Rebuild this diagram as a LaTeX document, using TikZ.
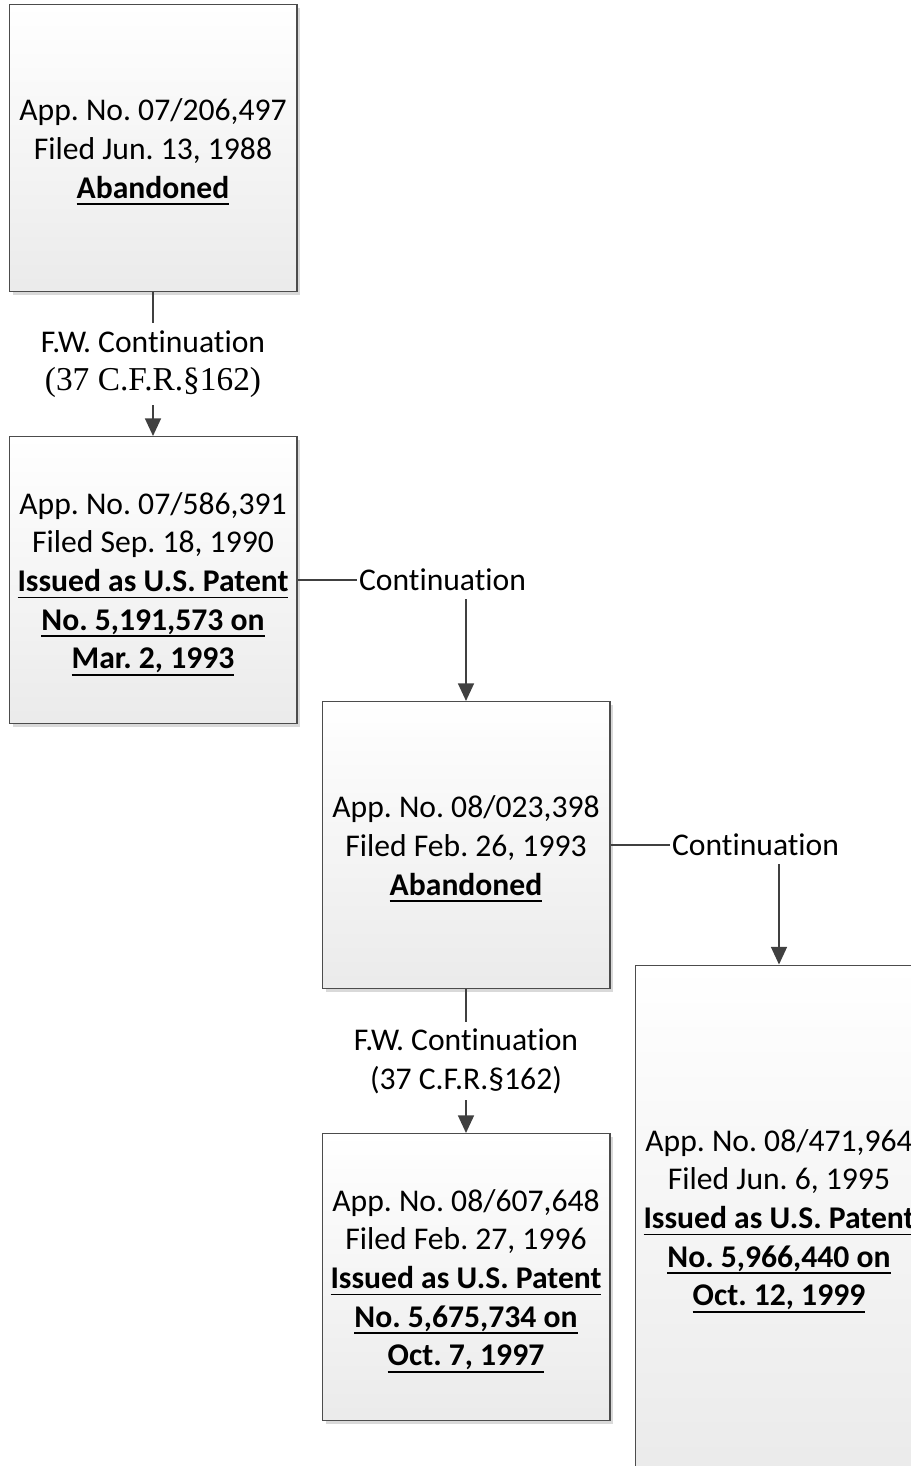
\documentclass[tikz,border=0pt]{standalone}
\usepackage{fontspec}
\setmainfont[Ligatures=NoCommon]{Carlito}
\newfontfamily\serifcfr{Liberation Serif}
\usetikzlibrary{arrows.meta,shadows}
\frenchspacing

% bold text with a heavy underline
\newcommand\uln[1]{\setbox0\hbox{\bfseries #1}\leavevmode\rlap{\rule[-4pt]{\wd0}{1.1pt}}\box0}
% extra room above the first line, so the block sits a little lower
\newcommand\topgap{\rule{0pt}{17pt}}

\tikzset{
  appbox/.style={draw=black!70, line width=0.6pt, top color=white, bottom color=black!8,
    minimum width=5.76cm, minimum height=5.74cm, align=center,
    font=\fontsize{18}{22}\selectfont,
    drop shadow={shadow xshift=0.07cm, shadow yshift=-0.07cm, fill=black!15, opacity=1}},
  link/.style={draw=black!75, line width=1.1pt},
  arr/.style={link, -{Triangle[width=9pt,length=10pt]}},
  lbl/.style={fill=white, align=center, inner sep=4pt, font=\fontsize{18}{22}\selectfont}
}

\begin{document}
\begin{tikzpicture}[x=0.02cm,y=-0.02cm]
\useasboundingbox (0,0) rectangle (911,1466);
\clip (0,0) rectangle (911,1466);

\node[appbox] (a206) at (153,148) {\topgap App. No. 07/206,497\\Filed Jun. 13, 1988\\\uln{Abandoned}};
\node[appbox] (a586) at (153,580) {\topgap App. No. 07/586,391\\Filed Sep. 18, 1990\\\uln{Issued as U.S. Patent}\\\uln{No. 5,191,573 on}\\\uln{Mar. 2, 1993}};
\node[appbox] (a023) at (466,845) {\topgap App. No. 08/023,398\\Filed Feb. 26, 1993\\\uln{Abandoned}};
\node[appbox] (a607) at (466,1277) {\topgap App. No. 08/607,648\\Filed Feb. 27, 1996\\\uln{Issued as U.S. Patent}\\\uln{No. 5,675,734 on}\\\uln{Oct. 7, 1997}};
\node[appbox, minimum height=10.08cm] (a471) at (779,1217) {\topgap App. No. 08/471,964\\Filed Jun. 6, 1995\\\uln{Issued as U.S. Patent}\\\uln{No. 5,966,440 on}\\\uln{Oct. 12, 1999}};

% file wrapper continuations
\draw[arr] (a206.south) -- node[lbl] {F.W. Continuation\\{\serifcfr\fontsize{19}{22}\selectfont(37 C.F.R.§162)}} (a586.north);
\draw[arr] (a023.south) -- node[lbl] {F.W. Continuation\\(37 C.F.R.§162)} (a607.north);

% continuations
\node[lbl, anchor=west, inner sep=1pt] (cont1) at (357,580) {Continuation};
\draw[link] (a586.east) -- (cont1.west);
\draw[arr] ([yshift=-0.12cm]cont1.south -| a023.north) -- (a023.north);

\node[lbl, anchor=west, inner sep=1pt] (cont2) at (670,845) {Continuation};
\draw[link] (a023.east) -- (cont2.west);
\draw[arr] ([yshift=-0.12cm]cont2.south -| a471.north) -- (a471.north);
\end{tikzpicture}
\end{document}
